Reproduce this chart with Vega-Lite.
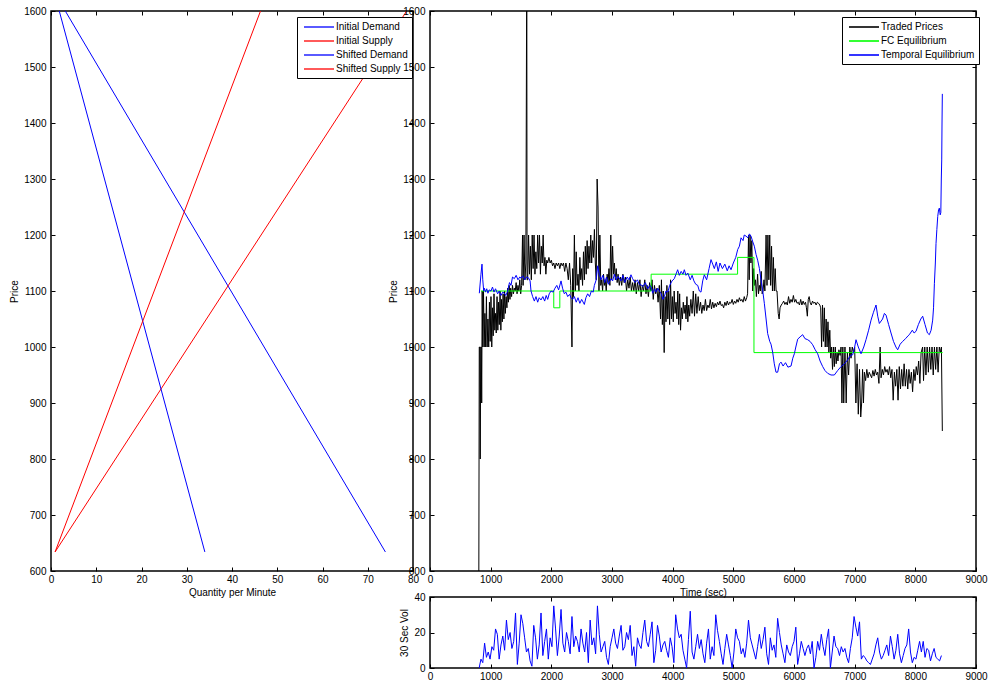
{
  "$schema": "https://vega.github.io/schema/vega-lite/v6.json",
  "padding": {"left": 9, "top": 5, "right": 5, "bottom": 5},
  "background": "white",
  "config": {
    "font": "Liberation Sans",
    "view": {"stroke": "black", "strokeWidth": 1.5},
    "axis": {"grid": false, "domain": false, "tickSize": -4, "tickColor": "black", "tickWidth": 1, "labelFont": "Liberation Sans", "labelFontSize": 10, "labelColor": "black", "titleFont": "Liberation Sans", "titleFontSize": 10, "titleFontWeight": "normal", "titleColor": "black", "labelFlush": false, "labelOverlap": false, "format": "d"},
    "axisX": {"labelPadding": 7, "titlePadding": 3},
    "axisY": {"labelPadding": 9, "titlePadding": 4},
    "legend": {"labelFont": "Liberation Sans", "labelFontSize": 10, "labelColor": "black", "strokeColor": "black", "fillColor": "white", "padding": 4, "rowPadding": 3, "symbolSize": 100, "symbolStrokeWidth": 1.3, "labelOffset": 23}
  },
  "resolve": {"scale": {"color": "independent"}, "legend": {"color": "independent"}},
  "datasets": {
    "sd": [
      {"series": "Initial Demand", "q": 3.16, "p": 1600}, {"series": "Initial Demand", "q": 73.9, "p": 634},
      {"series": "Initial Supply", "q": 0.9, "p": 634}, {"series": "Initial Supply", "q": 78.6, "p": 1600},
      {"series": "Shifted Demand", "q": 1.83, "p": 1600}, {"series": "Shifted Demand", "q": 34.0, "p": 634},
      {"series": "Shifted Supply", "q": 0.9, "p": 634}, {"series": "Shifted Supply", "q": 46.3, "p": 1600}
    ],
    "ts": [
      {"s":"Traded Prices","t":805,"p":600},{"s":"Traded Prices","t":812,"p":1000},{"s":"Traded Prices","t":820,"p":1000},{"s":"Traded Prices","t":828,"p":800},{"s":"Traded Prices","t":836,"p":1000},{"s":"Traded Prices","t":846,"p":1000},{"s":"Traded Prices","t":852,"p":900},{"s":"Traded Prices","t":860,"p":1100},{"s":"Traded Prices","t":870,"p":1000},{"s":"Traded Prices","t":882,"p":1100},{"s":"Traded Prices","t":893,"p":1000},{"s":"Traded Prices","t":905,"p":1060},{"s":"Traded Prices","t":918,"p":1000},{"s":"Traded Prices","t":930,"p":1090},{"s":"Traded Prices","t":942,"p":1000},{"s":"Traded Prices","t":955,"p":1050},{"s":"Traded Prices","t":968,"p":1000},{"s":"Traded Prices","t":980,"p":1080},{"s":"Traded Prices","t":992,"p":1010},
      {"s":"Traded Prices","t":1005,"p":1090},{"s":"Traded Prices","t":1018,"p":1000},{"s":"Traded Prices","t":1030,"p":1070},{"s":"Traded Prices","t":1042,"p":1020},{"s":"Traded Prices","t":1055,"p":1095},{"s":"Traded Prices","t":1068,"p":1030},{"s":"Traded Prices","t":1080,"p":1060},{"s":"Traded Prices","t":1092,"p":1025},{"s":"Traded Prices","t":1105,"p":1090},{"s":"Traded Prices","t":1118,"p":1030},{"s":"Traded Prices","t":1130,"p":1080},{"s":"Traded Prices","t":1142,"p":1040},{"s":"Traded Prices","t":1155,"p":1100},{"s":"Traded Prices","t":1168,"p":1030},{"s":"Traded Prices","t":1180,"p":1085},{"s":"Traded Prices","t":1192,"p":1045},{"s":"Traded Prices","t":1205,"p":1095},{"s":"Traded Prices","t":1218,"p":1050},{"s":"Traded Prices","t":1230,"p":1100},{"s":"Traded Prices","t":1242,"p":1060},{"s":"Traded Prices","t":1255,"p":1090},{"s":"Traded Prices","t":1268,"p":1070},{"s":"Traded Prices","t":1280,"p":1105},{"s":"Traded Prices","t":1292,"p":1080},{"s":"Traded Prices","t":1305,"p":1110},{"s":"Traded Prices","t":1318,"p":1085},{"s":"Traded Prices","t":1330,"p":1105},{"s":"Traded Prices","t":1345,"p":1090},{"s":"Traded Prices","t":1360,"p":1110},{"s":"Traded Prices","t":1375,"p":1095},{"s":"Traded Prices","t":1390,"p":1105},{"s":"Traded Prices","t":1405,"p":1100},{"s":"Traded Prices","t":1420,"p":1115},{"s":"Traded Prices","t":1435,"p":1095},{"s":"Traded Prices","t":1450,"p":1110},{"s":"Traded Prices","t":1465,"p":1100},{"s":"Traded Prices","t":1480,"p":1120},{"s":"Traded Prices","t":1495,"p":1095},{"s":"Traded Prices","t":1510,"p":1110},
      {"s":"Traded Prices","t":1525,"p":1200},{"s":"Traded Prices","t":1535,"p":1110},{"s":"Traded Prices","t":1550,"p":1200},{"s":"Traded Prices","t":1565,"p":1120},{"s":"Traded Prices","t":1580,"p":1150},{"s":"Traded Prices","t":1595,"p":1700},{"s":"Traded Prices","t":1600,"p":1120},{"s":"Traded Prices","t":1610,"p":1120},{"s":"Traded Prices","t":1625,"p":1200},{"s":"Traded Prices","t":1640,"p":1130},{"s":"Traded Prices","t":1655,"p":1180},{"s":"Traded Prices","t":1670,"p":1120},{"s":"Traded Prices","t":1685,"p":1200},{"s":"Traded Prices","t":1700,"p":1140},{"s":"Traded Prices","t":1715,"p":1200},{"s":"Traded Prices","t":1730,"p":1130},{"s":"Traded Prices","t":1745,"p":1170},{"s":"Traded Prices","t":1760,"p":1140},{"s":"Traded Prices","t":1775,"p":1200},{"s":"Traded Prices","t":1790,"p":1150},{"s":"Traded Prices","t":1805,"p":1200},{"s":"Traded Prices","t":1820,"p":1130},{"s":"Traded Prices","t":1835,"p":1180},{"s":"Traded Prices","t":1850,"p":1150},{"s":"Traded Prices","t":1865,"p":1200},{"s":"Traded Prices","t":1880,"p":1145},{"s":"Traded Prices","t":1895,"p":1160},{"s":"Traded Prices","t":1910,"p":1130},{"s":"Traded Prices","t":1925,"p":1155},{"s":"Traded Prices","t":1940,"p":1150},{"s":"Traded Prices","t":1960,"p":1160},{"s":"Traded Prices","t":1980,"p":1150},{"s":"Traded Prices","t":2000,"p":1155},{"s":"Traded Prices","t":2020,"p":1145},{"s":"Traded Prices","t":2040,"p":1150},{"s":"Traded Prices","t":2060,"p":1140},{"s":"Traded Prices","t":2080,"p":1150},{"s":"Traded Prices","t":2100,"p":1145},{"s":"Traded Prices","t":2120,"p":1150},{"s":"Traded Prices","t":2140,"p":1140},{"s":"Traded Prices","t":2160,"p":1150},{"s":"Traded Prices","t":2180,"p":1145},{"s":"Traded Prices","t":2200,"p":1150},{"s":"Traded Prices","t":2220,"p":1135},{"s":"Traded Prices","t":2240,"p":1150},{"s":"Traded Prices","t":2260,"p":1140},{"s":"Traded Prices","t":2280,"p":1120},{"s":"Traded Prices","t":2300,"p":1150},{"s":"Traded Prices","t":2320,"p":1110},{"s":"Traded Prices","t":2340,"p":1000},{"s":"Traded Prices","t":2352,"p":1140},{"s":"Traded Prices","t":2365,"p":1090},{"s":"Traded Prices","t":2380,"p":1200},{"s":"Traded Prices","t":2395,"p":1100},{"s":"Traded Prices","t":2410,"p":1170},{"s":"Traded Prices","t":2425,"p":1110},{"s":"Traded Prices","t":2440,"p":1130},{"s":"Traded Prices","t":2455,"p":1100},{"s":"Traded Prices","t":2470,"p":1160},{"s":"Traded Prices","t":2485,"p":1120},{"s":"Traded Prices","t":2500,"p":1140},{"s":"Traded Prices","t":2515,"p":1110},{"s":"Traded Prices","t":2530,"p":1170},{"s":"Traded Prices","t":2545,"p":1120},{"s":"Traded Prices","t":2560,"p":1180},{"s":"Traded Prices","t":2575,"p":1130},{"s":"Traded Prices","t":2590,"p":1190},{"s":"Traded Prices","t":2605,"p":1140},{"s":"Traded Prices","t":2620,"p":1180},{"s":"Traded Prices","t":2635,"p":1150},{"s":"Traded Prices","t":2650,"p":1200},{"s":"Traded Prices","t":2665,"p":1150},{"s":"Traded Prices","t":2680,"p":1190},{"s":"Traded Prices","t":2695,"p":1160},{"s":"Traded Prices","t":2710,"p":1210},{"s":"Traded Prices","t":2725,"p":1150},{"s":"Traded Prices","t":2740,"p":1120},{"s":"Traded Prices","t":2755,"p":1300},{"s":"Traded Prices","t":2770,"p":1250},{"s":"Traded Prices","t":2785,"p":1100},{"s":"Traded Prices","t":2800,"p":1200},{"s":"Traded Prices","t":2815,"p":1110},{"s":"Traded Prices","t":2830,"p":1120},{"s":"Traded Prices","t":2845,"p":1100},{"s":"Traded Prices","t":2860,"p":1130},{"s":"Traded Prices","t":2875,"p":1110},{"s":"Traded Prices","t":2890,"p":1120},{"s":"Traded Prices","t":2905,"p":1100},{"s":"Traded Prices","t":2920,"p":1130},{"s":"Traded Prices","t":2935,"p":1115},{"s":"Traded Prices","t":2950,"p":1140},{"s":"Traded Prices","t":2965,"p":1110},{"s":"Traded Prices","t":2980,"p":1200},{"s":"Traded Prices","t":2995,"p":1120},{"s":"Traded Prices","t":3010,"p":1180},{"s":"Traded Prices","t":3025,"p":1130},{"s":"Traded Prices","t":3040,"p":1150},{"s":"Traded Prices","t":3055,"p":1120},{"s":"Traded Prices","t":3070,"p":1140},{"s":"Traded Prices","t":3085,"p":1115},{"s":"Traded Prices","t":3100,"p":1130},{"s":"Traded Prices","t":3120,"p":1110},{"s":"Traded Prices","t":3140,"p":1125},{"s":"Traded Prices","t":3160,"p":1110},{"s":"Traded Prices","t":3180,"p":1130},{"s":"Traded Prices","t":3200,"p":1115},{"s":"Traded Prices","t":3220,"p":1125},{"s":"Traded Prices","t":3240,"p":1100},{"s":"Traded Prices","t":3260,"p":1120},{"s":"Traded Prices","t":3280,"p":1105},{"s":"Traded Prices","t":3300,"p":1125},{"s":"Traded Prices","t":3320,"p":1100},
      {"s":"Traded Prices","t":3340,"p":1115},{"s":"Traded Prices","t":3360,"p":1100},{"s":"Traded Prices","t":3380,"p":1120},{"s":"Traded Prices","t":3400,"p":1095},{"s":"Traded Prices","t":3420,"p":1115},{"s":"Traded Prices","t":3440,"p":1100},{"s":"Traded Prices","t":3460,"p":1120},{"s":"Traded Prices","t":3480,"p":1090},{"s":"Traded Prices","t":3500,"p":1110},{"s":"Traded Prices","t":3520,"p":1100},{"s":"Traded Prices","t":3540,"p":1120},{"s":"Traded Prices","t":3560,"p":1095},{"s":"Traded Prices","t":3580,"p":1110},{"s":"Traded Prices","t":3600,"p":1090},{"s":"Traded Prices","t":3620,"p":1115},{"s":"Traded Prices","t":3640,"p":1100},{"s":"Traded Prices","t":3660,"p":1120},{"s":"Traded Prices","t":3680,"p":1085},{"s":"Traded Prices","t":3700,"p":1110},{"s":"Traded Prices","t":3720,"p":1095},{"s":"Traded Prices","t":3740,"p":1105},{"s":"Traded Prices","t":3760,"p":1080},{"s":"Traded Prices","t":3780,"p":1110},{"s":"Traded Prices","t":3800,"p":1050},{"s":"Traded Prices","t":3815,"p":1120},{"s":"Traded Prices","t":3830,"p":1040},{"s":"Traded Prices","t":3845,"p":1100},{"s":"Traded Prices","t":3860,"p":990},{"s":"Traded Prices","t":3875,"p":1090},{"s":"Traded Prices","t":3890,"p":1045},{"s":"Traded Prices","t":3905,"p":1110},{"s":"Traded Prices","t":3920,"p":1050},{"s":"Traded Prices","t":3935,"p":1100},{"s":"Traded Prices","t":3950,"p":1040},{"s":"Traded Prices","t":3965,"p":1120},{"s":"Traded Prices","t":3980,"p":1050},{"s":"Traded Prices","t":3995,"p":1090},{"s":"Traded Prices","t":4010,"p":1045},{"s":"Traded Prices","t":4025,"p":1100},{"s":"Traded Prices","t":4040,"p":1060},{"s":"Traded Prices","t":4055,"p":1080},{"s":"Traded Prices","t":4070,"p":1050},{"s":"Traded Prices","t":4085,"p":1100},{"s":"Traded Prices","t":4100,"p":1040},{"s":"Traded Prices","t":4115,"p":1095},{"s":"Traded Prices","t":4130,"p":1030},{"s":"Traded Prices","t":4145,"p":1070},{"s":"Traded Prices","t":4160,"p":1050},{"s":"Traded Prices","t":4175,"p":1080},{"s":"Traded Prices","t":4190,"p":1060},{"s":"Traded Prices","t":4205,"p":1075},{"s":"Traded Prices","t":4220,"p":1050},{"s":"Traded Prices","t":4235,"p":1090},{"s":"Traded Prices","t":4250,"p":1045},{"s":"Traded Prices","t":4265,"p":1075},{"s":"Traded Prices","t":4280,"p":1055},{"s":"Traded Prices","t":4300,"p":1085},{"s":"Traded Prices","t":4320,"p":1060},{"s":"Traded Prices","t":4340,"p":1100},{"s":"Traded Prices","t":4360,"p":1055},{"s":"Traded Prices","t":4380,"p":1095},{"s":"Traded Prices","t":4400,"p":1060},{"s":"Traded Prices","t":4420,"p":1090},{"s":"Traded Prices","t":4440,"p":1065},{"s":"Traded Prices","t":4460,"p":1080},{"s":"Traded Prices","t":4480,"p":1060},{"s":"Traded Prices","t":4500,"p":1075},{"s":"Traded Prices","t":4520,"p":1065},{"s":"Traded Prices","t":4540,"p":1085},{"s":"Traded Prices","t":4560,"p":1065},{"s":"Traded Prices","t":4580,"p":1075},{"s":"Traded Prices","t":4600,"p":1070},{"s":"Traded Prices","t":4620,"p":1085},{"s":"Traded Prices","t":4640,"p":1068},{"s":"Traded Prices","t":4660,"p":1080},{"s":"Traded Prices","t":4680,"p":1070},{"s":"Traded Prices","t":4700,"p":1078},{"s":"Traded Prices","t":4720,"p":1072},{"s":"Traded Prices","t":4740,"p":1080},{"s":"Traded Prices","t":4760,"p":1075},{"s":"Traded Prices","t":4780,"p":1082},{"s":"Traded Prices","t":4800,"p":1074},{"s":"Traded Prices","t":4820,"p":1076},{"s":"Traded Prices","t":4840,"p":1070},{"s":"Traded Prices","t":4860,"p":1080},{"s":"Traded Prices","t":4880,"p":1074},{"s":"Traded Prices","t":4900,"p":1082},{"s":"Traded Prices","t":4920,"p":1075},{"s":"Traded Prices","t":4940,"p":1080},{"s":"Traded Prices","t":4960,"p":1078},{"s":"Traded Prices","t":4980,"p":1085},{"s":"Traded Prices","t":5000,"p":1076},{"s":"Traded Prices","t":5020,"p":1082},{"s":"Traded Prices","t":5040,"p":1078},{"s":"Traded Prices","t":5060,"p":1085},{"s":"Traded Prices","t":5080,"p":1080},{"s":"Traded Prices","t":5100,"p":1088},{"s":"Traded Prices","t":5120,"p":1082},{"s":"Traded Prices","t":5140,"p":1085},{"s":"Traded Prices","t":5160,"p":1080},{"s":"Traded Prices","t":5180,"p":1090},{"s":"Traded Prices","t":5200,"p":1082},{"s":"Traded Prices","t":5220,"p":1088},{"s":"Traded Prices","t":5235,"p":1095},{"s":"Traded Prices","t":5250,"p":1200},{"s":"Traded Prices","t":5262,"p":1120},{"s":"Traded Prices","t":5275,"p":1200},{"s":"Traded Prices","t":5290,"p":1150},{"s":"Traded Prices","t":5305,"p":1190},{"s":"Traded Prices","t":5320,"p":1100},{"s":"Traded Prices","t":5335,"p":1140},{"s":"Traded Prices","t":5350,"p":1110},{"s":"Traded Prices","t":5365,"p":1120},{"s":"Traded Prices","t":5380,"p":1090},{"s":"Traded Prices","t":5400,"p":1130},{"s":"Traded Prices","t":5415,"p":1095},{"s":"Traded Prices","t":5430,"p":1110},{"s":"Traded Prices","t":5445,"p":1100},{"s":"Traded Prices","t":5460,"p":1135},{"s":"Traded Prices","t":5475,"p":1095},{"s":"Traded Prices","t":5490,"p":1100},{"s":"Traded Prices","t":5505,"p":1120},{"s":"Traded Prices","t":5520,"p":1100},{"s":"Traded Prices","t":5540,"p":1200},{"s":"Traded Prices","t":5555,"p":1110},{"s":"Traded Prices","t":5570,"p":1200},{"s":"Traded Prices","t":5585,"p":1120},{"s":"Traded Prices","t":5600,"p":1200},{"s":"Traded Prices","t":5615,"p":1110},{"s":"Traded Prices","t":5630,"p":1180},{"s":"Traded Prices","t":5645,"p":1100},{"s":"Traded Prices","t":5660,"p":1160},{"s":"Traded Prices","t":5675,"p":1100},{"s":"Traded Prices","t":5690,"p":1140},{"s":"Traded Prices","t":5705,"p":1100},{"s":"Traded Prices","t":5720,"p":1100},{"s":"Traded Prices","t":5740,"p":1060},{"s":"Traded Prices","t":5755,"p":1050},{"s":"Traded Prices","t":5770,"p":1070},{"s":"Traded Prices","t":5790,"p":1075},{"s":"Traded Prices","t":5810,"p":1078},{"s":"Traded Prices","t":5830,"p":1082},{"s":"Traded Prices","t":5850,"p":1076},{"s":"Traded Prices","t":5870,"p":1080},{"s":"Traded Prices","t":5890,"p":1075},{"s":"Traded Prices","t":5910,"p":1090},{"s":"Traded Prices","t":5930,"p":1078},{"s":"Traded Prices","t":5950,"p":1085},{"s":"Traded Prices","t":5970,"p":1080},{"s":"Traded Prices","t":5990,"p":1092},{"s":"Traded Prices","t":6010,"p":1080},{"s":"Traded Prices","t":6030,"p":1085},{"s":"Traded Prices","t":6050,"p":1078},{"s":"Traded Prices","t":6070,"p":1080},{"s":"Traded Prices","t":6090,"p":1075},{"s":"Traded Prices","t":6110,"p":1085},{"s":"Traded Prices","t":6130,"p":1075},{"s":"Traded Prices","t":6150,"p":1082},{"s":"Traded Prices","t":6170,"p":1076},{"s":"Traded Prices","t":6190,"p":1080},{"s":"Traded Prices","t":6205,"p":1070},{"s":"Traded Prices","t":6220,"p":1055},{"s":"Traded Prices","t":6235,"p":1085},{"s":"Traded Prices","t":6250,"p":1090},{"s":"Traded Prices","t":6265,"p":1080},{"s":"Traded Prices","t":6285,"p":1075},{"s":"Traded Prices","t":6305,"p":1082},{"s":"Traded Prices","t":6325,"p":1078},{"s":"Traded Prices","t":6345,"p":1080},{"s":"Traded Prices","t":6365,"p":1075},{"s":"Traded Prices","t":6385,"p":1080},{"s":"Traded Prices","t":6405,"p":1078},{"s":"Traded Prices","t":6425,"p":1075},{"s":"Traded Prices","t":6440,"p":1070},{"s":"Traded Prices","t":6455,"p":1000},{"s":"Traded Prices","t":6470,"p":1075},{"s":"Traded Prices","t":6485,"p":1010},{"s":"Traded Prices","t":6500,"p":1070},{"s":"Traded Prices","t":6515,"p":1000},{"s":"Traded Prices","t":6530,"p":1050},{"s":"Traded Prices","t":6545,"p":1000},{"s":"Traded Prices","t":6560,"p":1045},{"s":"Traded Prices","t":6575,"p":990},{"s":"Traded Prices","t":6590,"p":1030},{"s":"Traded Prices","t":6605,"p":980},{"s":"Traded Prices","t":6620,"p":1000},{"s":"Traded Prices","t":6635,"p":960},{"s":"Traded Prices","t":6650,"p":1000},{"s":"Traded Prices","t":6665,"p":965},{"s":"Traded Prices","t":6680,"p":1000},{"s":"Traded Prices","t":6695,"p":970},{"s":"Traded Prices","t":6710,"p":990},{"s":"Traded Prices","t":6725,"p":975},{"s":"Traded Prices","t":6740,"p":995},{"s":"Traded Prices","t":6760,"p":985},{"s":"Traded Prices","t":6775,"p":1000},{"s":"Traded Prices","t":6790,"p":900},{"s":"Traded Prices","t":6805,"p":1000},{"s":"Traded Prices","t":6820,"p":900},{"s":"Traded Prices","t":6840,"p":1000},{"s":"Traded Prices","t":6860,"p":900},{"s":"Traded Prices","t":6880,"p":990},{"s":"Traded Prices","t":6900,"p":950},{"s":"Traded Prices","t":6920,"p":1000},{"s":"Traded Prices","t":6940,"p":980},{"s":"Traded Prices","t":6960,"p":1000},{"s":"Traded Prices","t":6980,"p":990},{"s":"Traded Prices","t":7000,"p":1000},{"s":"Traded Prices","t":7020,"p":900},{"s":"Traded Prices","t":7040,"p":970},{"s":"Traded Prices","t":7060,"p":880},{"s":"Traded Prices","t":7080,"p":960},{"s":"Traded Prices","t":7100,"p":875},{"s":"Traded Prices","t":7115,"p":900},{"s":"Traded Prices","t":7130,"p":960},{"s":"Traded Prices","t":7145,"p":900},{"s":"Traded Prices","t":7160,"p":955},{"s":"Traded Prices","t":7180,"p":940},{"s":"Traded Prices","t":7200,"p":960},{"s":"Traded Prices","t":7220,"p":945},{"s":"Traded Prices","t":7240,"p":955},{"s":"Traded Prices","t":7260,"p":950},{"s":"Traded Prices","t":7280,"p":945},{"s":"Traded Prices","t":7300,"p":958},{"s":"Traded Prices","t":7320,"p":948},{"s":"Traded Prices","t":7340,"p":960},{"s":"Traded Prices","t":7360,"p":950},{"s":"Traded Prices","t":7380,"p":955},{"s":"Traded Prices","t":7400,"p":935},{"s":"Traded Prices","t":7420,"p":1000},{"s":"Traded Prices","t":7435,"p":945},{"s":"Traded Prices","t":7455,"p":960},{"s":"Traded Prices","t":7475,"p":950},{"s":"Traded Prices","t":7495,"p":965},{"s":"Traded Prices","t":7515,"p":955},{"s":"Traded Prices","t":7535,"p":960},{"s":"Traded Prices","t":7555,"p":950},{"s":"Traded Prices","t":7575,"p":965},{"s":"Traded Prices","t":7595,"p":945},{"s":"Traded Prices","t":7615,"p":960},{"s":"Traded Prices","t":7635,"p":905},{"s":"Traded Prices","t":7655,"p":955},{"s":"Traded Prices","t":7675,"p":930},{"s":"Traded Prices","t":7695,"p":960},{"s":"Traded Prices","t":7715,"p":905},{"s":"Traded Prices","t":7735,"p":965},{"s":"Traded Prices","t":7755,"p":925},{"s":"Traded Prices","t":7775,"p":960},{"s":"Traded Prices","t":7795,"p":930},{"s":"Traded Prices","t":7815,"p":970},{"s":"Traded Prices","t":7835,"p":930},{"s":"Traded Prices","t":7855,"p":960},{"s":"Traded Prices","t":7875,"p":925},{"s":"Traded Prices","t":7895,"p":960},{"s":"Traded Prices","t":7915,"p":935},{"s":"Traded Prices","t":7935,"p":955},{"s":"Traded Prices","t":7955,"p":920},{"s":"Traded Prices","t":7975,"p":960},{"s":"Traded Prices","t":7995,"p":940},{"s":"Traded Prices","t":8015,"p":965},{"s":"Traded Prices","t":8035,"p":950},{"s":"Traded Prices","t":8055,"p":975},{"s":"Traded Prices","t":8075,"p":935},{"s":"Traded Prices","t":8095,"p":990},{"s":"Traded Prices","t":8120,"p":1000},{"s":"Traded Prices","t":8135,"p":940},{"s":"Traded Prices","t":8155,"p":1000},{"s":"Traded Prices","t":8175,"p":950},{"s":"Traded Prices","t":8195,"p":1000},{"s":"Traded Prices","t":8215,"p":955},{"s":"Traded Prices","t":8235,"p":1000},{"s":"Traded Prices","t":8255,"p":960},{"s":"Traded Prices","t":8275,"p":1000},{"s":"Traded Prices","t":8295,"p":950},{"s":"Traded Prices","t":8315,"p":1000},{"s":"Traded Prices","t":8335,"p":960},{"s":"Traded Prices","t":8355,"p":1000},{"s":"Traded Prices","t":8375,"p":955},{"s":"Traded Prices","t":8395,"p":1000},{"s":"Traded Prices","t":8415,"p":990},{"s":"Traded Prices","t":8430,"p":1000},{"s":"Traded Prices","t":8445,"p":850},
      {"s":"FC Equilibrium","t":840,"p":1100},{"s":"FC Equilibrium","t":2040,"p":1100},{"s":"FC Equilibrium","t":2040.1,"p":1070},{"s":"FC Equilibrium","t":2140,"p":1070},{"s":"FC Equilibrium","t":2140.1,"p":1100},{"s":"FC Equilibrium","t":3645,"p":1100},{"s":"FC Equilibrium","t":3645.1,"p":1130},{"s":"FC Equilibrium","t":5070,"p":1130},{"s":"FC Equilibrium","t":5070.1,"p":1160},{"s":"FC Equilibrium","t":5340,"p":1160},{"s":"FC Equilibrium","t":5340.1,"p":990},{"s":"FC Equilibrium","t":8450,"p":990},
      {"s":"Temporal Equilibrium","t":813,"p":1096},{"s":"Temporal Equilibrium","t":840,"p":1130},{"s":"Temporal Equilibrium","t":857,"p":1148},{"s":"Temporal Equilibrium","t":870,"p":1120},{"s":"Temporal Equilibrium","t":885,"p":1100},{"s":"Temporal Equilibrium","t":896,"p":1105},{"s":"Temporal Equilibrium","t":915,"p":1098},{"s":"Temporal Equilibrium","t":935,"p":1104},{"s":"Temporal Equilibrium","t":955,"p":1096},{"s":"Temporal Equilibrium","t":975,"p":1102},{"s":"Temporal Equilibrium","t":1005,"p":1100},{"s":"Temporal Equilibrium","t":1030,"p":1107},{"s":"Temporal Equilibrium","t":1055,"p":1098},{"s":"Temporal Equilibrium","t":1080,"p":1104},{"s":"Temporal Equilibrium","t":1115,"p":1095},{"s":"Temporal Equilibrium","t":1140,"p":1100},{"s":"Temporal Equilibrium","t":1170,"p":1092},{"s":"Temporal Equilibrium","t":1200,"p":1098},{"s":"Temporal Equilibrium","t":1225,"p":1096},{"s":"Temporal Equilibrium","t":1250,"p":1092},{"s":"Temporal Equilibrium","t":1280,"p":1100},{"s":"Temporal Equilibrium","t":1310,"p":1115},{"s":"Temporal Equilibrium","t":1335,"p":1110},{"s":"Temporal Equilibrium","t":1360,"p":1125},{"s":"Temporal Equilibrium","t":1390,"p":1122},{"s":"Temporal Equilibrium","t":1420,"p":1128},{"s":"Temporal Equilibrium","t":1450,"p":1120},{"s":"Temporal Equilibrium","t":1480,"p":1125},{"s":"Temporal Equilibrium","t":1500,"p":1123},{"s":"Temporal Equilibrium","t":1530,"p":1127},{"s":"Temporal Equilibrium","t":1560,"p":1120},{"s":"Temporal Equilibrium","t":1590,"p":1125},{"s":"Temporal Equilibrium","t":1620,"p":1124},{"s":"Temporal Equilibrium","t":1650,"p":1118},{"s":"Temporal Equilibrium","t":1665,"p":1100},{"s":"Temporal Equilibrium","t":1692,"p":1090},{"s":"Temporal Equilibrium","t":1720,"p":1082},{"s":"Temporal Equilibrium","t":1747,"p":1090},{"s":"Temporal Equilibrium","t":1775,"p":1080},{"s":"Temporal Equilibrium","t":1800,"p":1088},{"s":"Temporal Equilibrium","t":1830,"p":1084},{"s":"Temporal Equilibrium","t":1860,"p":1090},{"s":"Temporal Equilibrium","t":1890,"p":1082},{"s":"Temporal Equilibrium","t":1915,"p":1092},{"s":"Temporal Equilibrium","t":1940,"p":1085},{"s":"Temporal Equilibrium","t":1965,"p":1095},{"s":"Temporal Equilibrium","t":1995,"p":1100},{"s":"Temporal Equilibrium","t":2030,"p":1098},{"s":"Temporal Equilibrium","t":2060,"p":1105},{"s":"Temporal Equilibrium","t":2090,"p":1110},{"s":"Temporal Equilibrium","t":2120,"p":1102},{"s":"Temporal Equilibrium","t":2160,"p":1118},{"s":"Temporal Equilibrium","t":2185,"p":1105},{"s":"Temporal Equilibrium","t":2214,"p":1095},{"s":"Temporal Equilibrium","t":2240,"p":1098},{"s":"Temporal Equilibrium","t":2270,"p":1090},{"s":"Temporal Equilibrium","t":2300,"p":1094},{"s":"Temporal Equilibrium","t":2324,"p":1088},{"s":"Temporal Equilibrium","t":2350,"p":1085},{"s":"Temporal Equilibrium","t":2380,"p":1090},{"s":"Temporal Equilibrium","t":2410,"p":1080},{"s":"Temporal Equilibrium","t":2440,"p":1088},{"s":"Temporal Equilibrium","t":2470,"p":1078},{"s":"Temporal Equilibrium","t":2500,"p":1085},{"s":"Temporal Equilibrium","t":2544,"p":1076},{"s":"Temporal Equilibrium","t":2570,"p":1088},{"s":"Temporal Equilibrium","t":2599,"p":1095},{"s":"Temporal Equilibrium","t":2630,"p":1090},{"s":"Temporal Equilibrium","t":2660,"p":1100},{"s":"Temporal Equilibrium","t":2690,"p":1098},{"s":"Temporal Equilibrium","t":2709,"p":1110},{"s":"Temporal Equilibrium","t":2740,"p":1120},{"s":"Temporal Equilibrium","t":2764,"p":1145},{"s":"Temporal Equilibrium","t":2790,"p":1130},{"s":"Temporal Equilibrium","t":2819,"p":1120},{"s":"Temporal Equilibrium","t":2850,"p":1128},{"s":"Temporal Equilibrium","t":2880,"p":1115},{"s":"Temporal Equilibrium","t":2910,"p":1125},{"s":"Temporal Equilibrium","t":2940,"p":1112},{"s":"Temporal Equilibrium","t":2984,"p":1122},{"s":"Temporal Equilibrium","t":3010,"p":1118},{"s":"Temporal Equilibrium","t":3040,"p":1130},{"s":"Temporal Equilibrium","t":3070,"p":1120},{"s":"Temporal Equilibrium","t":3100,"p":1126},{"s":"Temporal Equilibrium","t":3149,"p":1118},{"s":"Temporal Equilibrium","t":3180,"p":1128},{"s":"Temporal Equilibrium","t":3210,"p":1115},{"s":"Temporal Equilibrium","t":3250,"p":1125},{"s":"Temporal Equilibrium","t":3280,"p":1120},{"s":"Temporal Equilibrium","t":3313,"p":1129},{"s":"Temporal Equilibrium","t":3340,"p":1122},{"s":"Temporal Equilibrium","t":3380,"p":1115},{"s":"Temporal Equilibrium","t":3420,"p":1120},{"s":"Temporal Equilibrium","t":3450,"p":1112},{"s":"Temporal Equilibrium","t":3478,"p":1111},{"s":"Temporal Equilibrium","t":3510,"p":1108},{"s":"Temporal Equilibrium","t":3550,"p":1115},{"s":"Temporal Equilibrium","t":3590,"p":1104},{"s":"Temporal Equilibrium","t":3620,"p":1110},{"s":"Temporal Equilibrium","t":3643,"p":1108},{"s":"Temporal Equilibrium","t":3670,"p":1096},{"s":"Temporal Equilibrium","t":3700,"p":1104},{"s":"Temporal Equilibrium","t":3730,"p":1098},{"s":"Temporal Equilibrium","t":3753,"p":1105},{"s":"Temporal Equilibrium","t":3780,"p":1100},{"s":"Temporal Equilibrium","t":3808,"p":1096},{"s":"Temporal Equilibrium","t":3840,"p":1085},{"s":"Temporal Equilibrium","t":3862,"p":1090},{"s":"Temporal Equilibrium","t":3890,"p":1100},{"s":"Temporal Equilibrium","t":3920,"p":1098},{"s":"Temporal Equilibrium","t":3950,"p":1110},{"s":"Temporal Equilibrium","t":3990,"p":1118},{"s":"Temporal Equilibrium","t":4027,"p":1122},{"s":"Temporal Equilibrium","t":4055,"p":1130},{"s":"Temporal Equilibrium","t":4082,"p":1138},{"s":"Temporal Equilibrium","t":4110,"p":1128},{"s":"Temporal Equilibrium","t":4140,"p":1135},{"s":"Temporal Equilibrium","t":4170,"p":1130},{"s":"Temporal Equilibrium","t":4192,"p":1138},{"s":"Temporal Equilibrium","t":4220,"p":1128},{"s":"Temporal Equilibrium","t":4250,"p":1132},{"s":"Temporal Equilibrium","t":4290,"p":1120},{"s":"Temporal Equilibrium","t":4320,"p":1128},{"s":"Temporal Equilibrium","t":4350,"p":1118},{"s":"Temporal Equilibrium","t":4380,"p":1112},{"s":"Temporal Equilibrium","t":4413,"p":1110},{"s":"Temporal Equilibrium","t":4440,"p":1100},{"s":"Temporal Equilibrium","t":4467,"p":1098},{"s":"Temporal Equilibrium","t":4495,"p":1118},{"s":"Temporal Equilibrium","t":4522,"p":1129},{"s":"Temporal Equilibrium","t":4560,"p":1120},{"s":"Temporal Equilibrium","t":4600,"p":1140},{"s":"Temporal Equilibrium","t":4632,"p":1156},{"s":"Temporal Equilibrium","t":4660,"p":1148},{"s":"Temporal Equilibrium","t":4687,"p":1140},{"s":"Temporal Equilibrium","t":4720,"p":1152},{"s":"Temporal Equilibrium","t":4750,"p":1135},{"s":"Temporal Equilibrium","t":4780,"p":1150},{"s":"Temporal Equilibrium","t":4820,"p":1140},{"s":"Temporal Equilibrium","t":4860,"p":1148},{"s":"Temporal Equilibrium","t":4900,"p":1136},{"s":"Temporal Equilibrium","t":4930,"p":1145},{"s":"Temporal Equilibrium","t":4962,"p":1138},{"s":"Temporal Equilibrium","t":5000,"p":1150},{"s":"Temporal Equilibrium","t":5040,"p":1160},{"s":"Temporal Equilibrium","t":5072,"p":1174},{"s":"Temporal Equilibrium","t":5100,"p":1180},{"s":"Temporal Equilibrium","t":5127,"p":1195},{"s":"Temporal Equilibrium","t":5160,"p":1190},{"s":"Temporal Equilibrium","t":5180,"p":1200},{"s":"Temporal Equilibrium","t":5209,"p":1198},{"s":"Temporal Equilibrium","t":5240,"p":1195},{"s":"Temporal Equilibrium","t":5265,"p":1202},{"s":"Temporal Equilibrium","t":5291,"p":1198},{"s":"Temporal Equilibrium","t":5320,"p":1188},{"s":"Temporal Equilibrium","t":5346,"p":1180},{"s":"Temporal Equilibrium","t":5375,"p":1165},{"s":"Temporal Equilibrium","t":5401,"p":1155},{"s":"Temporal Equilibrium","t":5430,"p":1140},{"s":"Temporal Equilibrium","t":5456,"p":1120},{"s":"Temporal Equilibrium","t":5485,"p":1100},{"s":"Temporal Equilibrium","t":5511,"p":1078},{"s":"Temporal Equilibrium","t":5540,"p":1050},{"s":"Temporal Equilibrium","t":5566,"p":1024},{"s":"Temporal Equilibrium","t":5600,"p":1010},{"s":"Temporal Equilibrium","t":5621,"p":1005},{"s":"Temporal Equilibrium","t":5648,"p":991},{"s":"Temporal Equilibrium","t":5675,"p":970},{"s":"Temporal Equilibrium","t":5703,"p":955},{"s":"Temporal Equilibrium","t":5731,"p":955},{"s":"Temporal Equilibrium","t":5760,"p":970},{"s":"Temporal Equilibrium","t":5786,"p":973},{"s":"Temporal Equilibrium","t":5820,"p":966},{"s":"Temporal Equilibrium","t":5860,"p":972},{"s":"Temporal Equilibrium","t":5900,"p":964},{"s":"Temporal Equilibrium","t":5951,"p":966},{"s":"Temporal Equilibrium","t":5980,"p":980},{"s":"Temporal Equilibrium","t":6006,"p":988},{"s":"Temporal Equilibrium","t":6030,"p":1000},{"s":"Temporal Equilibrium","t":6061,"p":1014},{"s":"Temporal Equilibrium","t":6100,"p":1018},{"s":"Temporal Equilibrium","t":6143,"p":1022},{"s":"Temporal Equilibrium","t":6180,"p":1015},{"s":"Temporal Equilibrium","t":6226,"p":1013},{"s":"Temporal Equilibrium","t":6265,"p":1010},{"s":"Temporal Equilibrium","t":6308,"p":1004},{"s":"Temporal Equilibrium","t":6350,"p":995},{"s":"Temporal Equilibrium","t":6390,"p":988},{"s":"Temporal Equilibrium","t":6430,"p":975},{"s":"Temporal Equilibrium","t":6473,"p":965},{"s":"Temporal Equilibrium","t":6510,"p":958},{"s":"Temporal Equilibrium","t":6555,"p":953},{"s":"Temporal Equilibrium","t":6610,"p":950},{"s":"Temporal Equilibrium","t":6665,"p":950},{"s":"Temporal Equilibrium","t":6720,"p":958},{"s":"Temporal Equilibrium","t":6775,"p":965},{"s":"Temporal Equilibrium","t":6830,"p":970},{"s":"Temporal Equilibrium","t":6885,"p":977},{"s":"Temporal Equilibrium","t":6930,"p":985},{"s":"Temporal Equilibrium","t":6967,"p":986},{"s":"Temporal Equilibrium","t":7000,"p":1000},{"s":"Temporal Equilibrium","t":7022,"p":1013},{"s":"Temporal Equilibrium","t":7060,"p":1000},{"s":"Temporal Equilibrium","t":7105,"p":988},{"s":"Temporal Equilibrium","t":7150,"p":1000},{"s":"Temporal Equilibrium","t":7187,"p":1013},{"s":"Temporal Equilibrium","t":7230,"p":1030},{"s":"Temporal Equilibrium","t":7270,"p":1048},{"s":"Temporal Equilibrium","t":7310,"p":1062},{"s":"Temporal Equilibrium","t":7352,"p":1075},{"s":"Temporal Equilibrium","t":7380,"p":1055},{"s":"Temporal Equilibrium","t":7407,"p":1042},{"s":"Temporal Equilibrium","t":7460,"p":1050},{"s":"Temporal Equilibrium","t":7490,"p":1060},{"s":"Temporal Equilibrium","t":7517,"p":1057},{"s":"Temporal Equilibrium","t":7560,"p":1040},{"s":"Temporal Equilibrium","t":7599,"p":1025},{"s":"Temporal Equilibrium","t":7640,"p":1010},{"s":"Temporal Equilibrium","t":7680,"p":1000},{"s":"Temporal Equilibrium","t":7709,"p":995},{"s":"Temporal Equilibrium","t":7750,"p":1005},{"s":"Temporal Equilibrium","t":7791,"p":1010},{"s":"Temporal Equilibrium","t":7840,"p":1015},{"s":"Temporal Equilibrium","t":7880,"p":1020},{"s":"Temporal Equilibrium","t":7901,"p":1022},{"s":"Temporal Equilibrium","t":7950,"p":1030},{"s":"Temporal Equilibrium","t":7980,"p":1025},{"s":"Temporal Equilibrium","t":8011,"p":1028},{"s":"Temporal Equilibrium","t":8050,"p":1040},{"s":"Temporal Equilibrium","t":8090,"p":1050},{"s":"Temporal Equilibrium","t":8121,"p":1055},{"s":"Temporal Equilibrium","t":8160,"p":1040},{"s":"Temporal Equilibrium","t":8200,"p":1025},{"s":"Temporal Equilibrium","t":8231,"p":1022},{"s":"Temporal Equilibrium","t":8260,"p":1030},{"s":"Temporal Equilibrium","t":8286,"p":1048},{"s":"Temporal Equilibrium","t":8300,"p":1070},{"s":"Temporal Equilibrium","t":8314,"p":1113},{"s":"Temporal Equilibrium","t":8330,"p":1150},{"s":"Temporal Equilibrium","t":8341,"p":1185},{"s":"Temporal Equilibrium","t":8355,"p":1210},{"s":"Temporal Equilibrium","t":8369,"p":1233},{"s":"Temporal Equilibrium","t":8383,"p":1245},{"s":"Temporal Equilibrium","t":8396,"p":1248},{"s":"Temporal Equilibrium","t":8410,"p":1236},{"s":"Temporal Equilibrium","t":8420,"p":1240},{"s":"Temporal Equilibrium","t":8428,"p":1300},{"s":"Temporal Equilibrium","t":8435,"p":1334},{"s":"Temporal Equilibrium","t":8440,"p":1400},{"s":"Temporal Equilibrium","t":8445,"p":1452}
    ],
    "vol": [
      {"t":810,"v":0},{"t":840,"v":5},{"t":870,"v":3},{"t":900,"v":14},{"t":930,"v":6},{"t":960,"v":9},{"t":990,"v":5},{"t":1020,"v":12},{"t":1050,"v":10},{"t":1080,"v":22},{"t":1110,"v":19},{"t":1140,"v":5},{"t":1170,"v":13},{"t":1200,"v":18},{"t":1230,"v":10},{"t":1260,"v":27},{"t":1290,"v":16},{"t":1320,"v":20},{"t":1350,"v":11},{"t":1380,"v":15},{"t":1410,"v":31},{"t":1440,"v":2},{"t":1470,"v":14},{"t":1500,"v":30},{"t":1530,"v":25},{"t":1560,"v":17},{"t":1590,"v":9},{"t":1620,"v":11},{"t":1650,"v":4},{"t":1680,"v":1},{"t":1710,"v":24},{"t":1740,"v":17},{"t":1770,"v":5},{"t":1800,"v":13},{"t":1830,"v":31},{"t":1860,"v":7},{"t":1890,"v":15},{"t":1920,"v":22},{"t":1950,"v":5},{"t":1980,"v":17},{"t":2010,"v":12},{"t":2040,"v":35},{"t":2070,"v":22},{"t":2100,"v":7},{"t":2130,"v":18},{"t":2160,"v":33},{"t":2190,"v":14},{"t":2220,"v":9},{"t":2250,"v":20},{"t":2280,"v":15},{"t":2310,"v":8},{"t":2340,"v":29},{"t":2370,"v":12},{"t":2400,"v":18},{"t":2430,"v":15},{"t":2460,"v":9},{"t":2490,"v":22},{"t":2520,"v":14},{"t":2550,"v":9},{"t":2580,"v":20},{"t":2610,"v":3},{"t":2640,"v":27},{"t":2670,"v":13},{"t":2700,"v":17},{"t":2730,"v":8},{"t":2760,"v":35},{"t":2790,"v":19},{"t":2820,"v":9},{"t":2850,"v":12},{"t":2880,"v":15},{"t":2910,"v":6},{"t":2940,"v":2},{"t":2970,"v":12},{"t":3000,"v":17},{"t":3030,"v":22},{"t":3060,"v":14},{"t":3090,"v":11},{"t":3120,"v":18},{"t":3150,"v":24},{"t":3180,"v":10},{"t":3210,"v":12},{"t":3240,"v":20},{"t":3270,"v":16},{"t":3300,"v":24},{"t":3330,"v":7},{"t":3360,"v":12},{"t":3390,"v":1},{"t":3420,"v":17},{"t":3450,"v":13},{"t":3480,"v":11},{"t":3510,"v":20},{"t":3540,"v":27},{"t":3570,"v":15},{"t":3600,"v":12},{"t":3630,"v":19},{"t":3660,"v":26},{"t":3690,"v":3},{"t":3720,"v":10},{"t":3750,"v":24},{"t":3780,"v":18},{"t":3810,"v":9},{"t":3840,"v":13},{"t":3870,"v":15},{"t":3900,"v":10},{"t":3930,"v":6},{"t":3960,"v":17},{"t":3990,"v":12},{"t":4020,"v":3},{"t":4050,"v":30},{"t":4080,"v":22},{"t":4110,"v":17},{"t":4140,"v":19},{"t":4170,"v":10},{"t":4200,"v":5},{"t":4230,"v":0},{"t":4260,"v":16},{"t":4290,"v":32},{"t":4320,"v":9},{"t":4350,"v":5},{"t":4380,"v":12},{"t":4410,"v":19},{"t":4440,"v":11},{"t":4470,"v":16},{"t":4500,"v":8},{"t":4530,"v":3},{"t":4560,"v":14},{"t":4590,"v":22},{"t":4620,"v":5},{"t":4650,"v":12},{"t":4680,"v":7},{"t":4710,"v":30},{"t":4740,"v":21},{"t":4770,"v":15},{"t":4800,"v":8},{"t":4830,"v":2},{"t":4860,"v":11},{"t":4890,"v":19},{"t":4920,"v":13},{"t":4950,"v":7},{"t":4980,"v":0},{"t":5010,"v":9},{"t":5040,"v":22},{"t":5070,"v":17},{"t":5100,"v":15},{"t":5130,"v":8},{"t":5160,"v":11},{"t":5190,"v":6},{"t":5220,"v":14},{"t":5250,"v":27},{"t":5280,"v":17},{"t":5310,"v":13},{"t":5340,"v":9},{"t":5370,"v":5},{"t":5400,"v":12},{"t":5430,"v":19},{"t":5460,"v":11},{"t":5490,"v":16},{"t":5520,"v":23},{"t":5550,"v":8},{"t":5580,"v":2},{"t":5610,"v":17},{"t":5640,"v":10},{"t":5670,"v":13},{"t":5700,"v":6},{"t":5730,"v":28},{"t":5760,"v":20},{"t":5790,"v":13},{"t":5820,"v":8},{"t":5850,"v":3},{"t":5880,"v":13},{"t":5910,"v":9},{"t":5940,"v":7},{"t":5970,"v":12},{"t":6000,"v":15},{"t":6030,"v":23},{"t":6060,"v":2},{"t":6090,"v":8},{"t":6120,"v":15},{"t":6150,"v":11},{"t":6180,"v":7},{"t":6210,"v":11},{"t":6240,"v":13},{"t":6270,"v":8},{"t":6300,"v":15},{"t":6330,"v":0},{"t":6360,"v":6},{"t":6390,"v":15},{"t":6420,"v":10},{"t":6450,"v":19},{"t":6480,"v":12},{"t":6510,"v":7},{"t":6540,"v":16},{"t":6570,"v":22},{"t":6600,"v":0},{"t":6630,"v":9},{"t":6660,"v":18},{"t":6690,"v":12},{"t":6720,"v":11},{"t":6750,"v":7},{"t":6780,"v":12},{"t":6810,"v":9},{"t":6840,"v":11},{"t":6870,"v":6},{"t":6900,"v":3},{"t":6930,"v":11},{"t":6960,"v":17},{"t":6990,"v":29},{"t":7020,"v":23},{"t":7050,"v":18},{"t":7080,"v":26},{"t":7110,"v":5},{"t":7140,"v":7},{"t":7170,"v":6},{"t":7200,"v":4},{"t":7230,"v":3},{"t":7260,"v":2},{"t":7290,"v":5},{"t":7320,"v":8},{"t":7350,"v":13},{"t":7380,"v":17},{"t":7410,"v":9},{"t":7440,"v":5},{"t":7470,"v":7},{"t":7500,"v":10},{"t":7530,"v":13},{"t":7560,"v":7},{"t":7590,"v":18},{"t":7620,"v":12},{"t":7650,"v":5},{"t":7680,"v":10},{"t":7710,"v":19},{"t":7740,"v":8},{"t":7770,"v":3},{"t":7800,"v":7},{"t":7830,"v":11},{"t":7860,"v":13},{"t":7890,"v":22},{"t":7920,"v":9},{"t":7950,"v":3},{"t":7980,"v":6},{"t":8010,"v":5},{"t":8040,"v":10},{"t":8070,"v":15},{"t":8100,"v":9},{"t":8130,"v":15},{"t":8160,"v":6},{"t":8190,"v":11},{"t":8220,"v":10},{"t":8250,"v":4},{"t":8280,"v":8},{"t":8310,"v":11},{"t":8340,"v":6},{"t":8370,"v":5},{"t":8400,"v":4},{"t":8430,"v":7}
    ]
  },
  "bounds": "flush",
  "spacing": 17,
  "hconcat": [
    {
      "width": 362,
      "height": 560,
      "resolve": {"axis": {"x": "independent", "y": "independent"}},
      "layer": [
        {
          "data": {"name": "sd"},
          "mark": {"type": "line", "clip": true, "strokeWidth": 1},
          "encoding": {
            "x": {"field": "q", "type": "quantitative", "scale": {"domain": [0, 80], "nice": false, "zero": false}, "axis": {"orient": "bottom", "title": "Quantity per Minute", "values": [0, 10, 20, 30, 40, 50, 60, 70, 80]}},
            "y": {"field": "p", "type": "quantitative", "scale": {"domain": [600, 1600], "nice": false, "zero": false}, "axis": {"orient": "left", "title": "Price", "values": [600, 700, 800, 900, 1000, 1100, 1200, 1300, 1400, 1500, 1600]}},
            "color": {"field": "series", "type": "nominal", "scale": {"domain": ["Initial Demand", "Initial Supply", "Shifted Demand", "Shifted Supply"], "range": ["#0000ff", "#ff0000", "#0000ff", "#ff0000"]}, "legend": {"title": null, "orient": "none", "legendX": 246, "legendY": 6, "symbolType": "M-0.6,0H5.4"}}
          }
        },
        {
          "data": {"values": [{"q": 0, "p": 600}]},
          "mark": {"type": "point", "opacity": 0},
          "encoding": {
            "x": {"field": "q", "type": "quantitative", "axis": {"orient": "top", "labels": false, "title": null, "values": [0, 10, 20, 30, 40, 50, 60, 70, 80]}},
            "y": {"field": "p", "type": "quantitative", "axis": {"orient": "right", "labels": false, "title": null, "values": [600, 700, 800, 900, 1000, 1100, 1200, 1300, 1400, 1500, 1600]}}
          }
        }
      ]
    },
    {
      "bounds": "flush",
      "spacing": 26,
      "vconcat": [
        {
          "width": 546,
          "height": 560,
          "resolve": {"axis": {"x": "independent", "y": "independent"}},
          "layer": [
            {
              "data": {"name": "ts"},
              "mark": {"type": "line", "clip": true, "strokeWidth": 1},
              "encoding": {
                "x": {"field": "t", "type": "quantitative", "scale": {"domain": [0, 9000], "nice": false}, "axis": {"orient": "bottom", "title": "Time (sec)", "values": [0, 1000, 2000, 3000, 4000, 5000, 6000, 7000, 8000, 9000]}},
                "y": {"field": "p", "type": "quantitative", "scale": {"domain": [600, 1600], "nice": false, "zero": false}, "axis": {"orient": "left", "title": "Price", "values": [600, 700, 800, 900, 1000, 1100, 1200, 1300, 1400, 1500, 1600]}},
                "color": {"field": "s", "type": "nominal", "scale": {"domain": ["Traded Prices", "FC Equilibrium", "Temporal Equilibrium"], "range": ["#000000", "#00ff00", "#0000ff"]}, "legend": {"title": null, "orient": "none", "legendX": 412, "legendY": 6, "symbolType": "M-0.6,0H5.4", "symbolStrokeWidth": 1.6}}
              }
            },
            {
              "data": {"values": [{"t": 0, "p": 600}]},
              "mark": {"type": "point", "opacity": 0},
              "encoding": {
                "x": {"field": "t", "type": "quantitative", "axis": {"orient": "top", "labels": false, "title": null, "values": [0, 1000, 2000, 3000, 4000, 5000, 6000, 7000, 8000, 9000]}},
                "y": {"field": "p", "type": "quantitative", "axis": {"orient": "right", "labels": false, "title": null, "values": [600, 700, 800, 900, 1000, 1100, 1200, 1300, 1400, 1500, 1600]}}
              }
            }
          ]
        },
        {
          "width": 546,
          "height": 71,
          "resolve": {"axis": {"x": "independent", "y": "independent"}},
          "layer": [
            {
              "data": {"name": "vol"},
              "mark": {"type": "line", "clip": true, "strokeWidth": 1, "color": "#0000ff"},
              "encoding": {
                "x": {"field": "t", "type": "quantitative", "scale": {"domain": [0, 9000], "nice": false}, "axis": {"orient": "bottom", "title": null, "values": [0, 1000, 2000, 3000, 4000, 5000, 6000, 7000, 8000, 9000]}},
                "y": {"field": "v", "type": "quantitative", "scale": {"domain": [0, 40], "nice": false}, "axis": {"orient": "left", "title": "30 Sec Vol", "values": [0, 20, 40]}}
              }
            },
            {
              "data": {"values": [{"t": 0, "v": 0}]},
              "mark": {"type": "point", "opacity": 0},
              "encoding": {
                "x": {"field": "t", "type": "quantitative", "axis": {"orient": "top", "labels": false, "title": null, "values": [0, 1000, 2000, 3000, 4000, 5000, 6000, 7000, 8000, 9000]}},
                "y": {"field": "v", "type": "quantitative", "axis": {"orient": "right", "labels": false, "title": null, "values": [0, 20, 40]}}
              }
            }
          ]
        }
      ]
    }
  ]
}
